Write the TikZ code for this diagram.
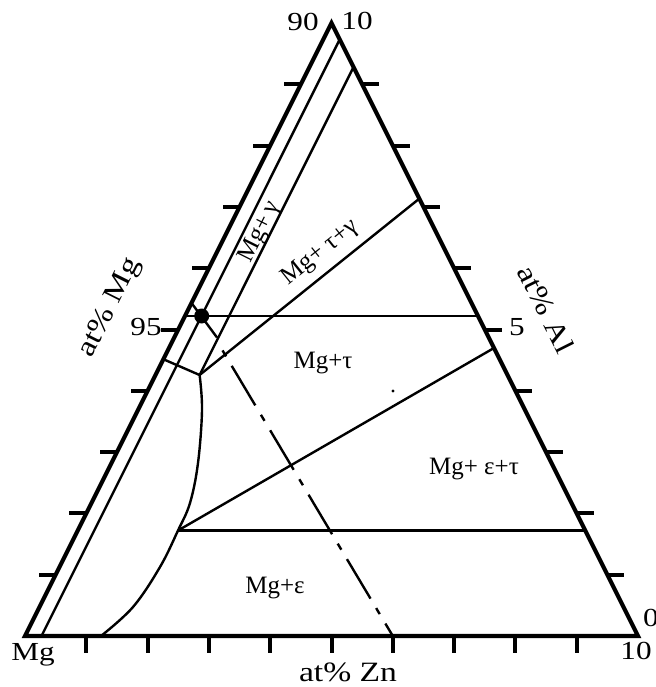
\documentclass[tikz,border=0pt]{standalone}
\usepackage{fontspec}
\setmainfont{Liberation Serif}
\newfontfamily\axfont[FakeStretch=1.2]{Liberation Serif}
\usetikzlibrary{calc}
\begin{document}
\begin{tikzpicture}[x=1pt,y=-1pt,
  frame/.style={line width=4.2pt, line join=miter},
  tickmark/.style={line width=4pt},
  phase/.style={line width=2.4pt},
  lbl/.style={inner sep=0pt, font=\fontsize{25}{25}\selectfont},
  axlbl/.style={inner sep=0pt, font=\axfont\fontsize{26}{26}\selectfont},
  axname/.style={inner sep=0pt, font=\axfont\fontsize{28}{28}\selectfont},
]
\useasboundingbox (0,0) rectangle (655,687);
% corners
\coordinate (A) at (25,636);
\coordinate (B) at (638,636);
\coordinate (C) at (331.5,23);
% phase points
\coordinate (J) at (199.6,375);
\coordinate (P) at (178,530.5);
\coordinate (D) at (201.7,316);
\coordinate (L2a) at (41.5,636);
\coordinate (L2b) at (339.7,39.5);
\coordinate (L3b) at (353.5,67.1);
\coordinate (Sa) at (191.5,303);
\coordinate (Sb) at (217,337.5);
\coordinate (Ha) at (185,316);
\coordinate (Hb) at (478,316);
\coordinate (Ka) at (164,359.5);
\coordinate (T1) at (419.5,198.5);
\coordinate (T2) at (494,348);
\coordinate (H2) at (585.5,530.5);
\coordinate (DDa) at (222.5,350.4);
\coordinate (DDb) at (392.8,636);
\coordinate (E) at (393,391);
% ticks
\foreach \k in {1,...,9}{
  \draw[tickmark] ($(A)!\k/10!(B)$) -- ++(0,17);
  \draw[tickmark] ($(A)!\k/10!(C)$) -- ++(-17,0);
  \draw[tickmark] ($(B)!\k/10!(C)$) -- ++(17,0);
}
% frame
\draw[frame] (A) -- (B) -- (C) -- cycle;
% phase boundaries
\draw[phase] (L2a) -- (L2b);
\draw[phase] (J) -- (L3b);
\draw[phase] (Sa) -- (Sb);
\draw[phase] (Ha) -- (Hb);
\draw[phase] (Ka) -- (J);
\draw[phase] (J) -- (T1);
\draw[phase] (P) -- (T2);
\draw[phase] (P) -- (H2);
\draw[phase] plot[smooth, tension=0.6] coordinates {(199.6,375) (202,410) (198,463) (190,503) (178,530.5) (160,567) (133,607) (101,636)};
\draw[phase, dash pattern=on 7pt off 11pt on 46pt off 11pt] (DDa) -- (DDb);
\fill (D) circle[radius=7.5];
\fill (E) circle[radius=1.7];
% interior labels
\node[lbl, rotate=63.4] (lg) at (260,232) {Mg+\,γ};
\node[lbl, rotate=38.7] (ltg) at (320,253) {Mg+ τ+γ};
\node[lbl] (lt) at (323,363) {Mg+τ};
\node[lbl] (let) at (474,469) {Mg+ ε+τ};
\node[lbl] (le) at (275,588) {Mg+ε};
% axis labels
\node[axname] (zn) at (348,672) {at\% Zn};
\node[axname, rotate=63.4] (mgax) at (110,308) {at\% Mg};
\node[axname, rotate=-63.4] (alax) at (546,309) {at\% Al};
\node[axlbl] (mg) at (33,655) {Mg};
\node[axlbl] (n10b) at (636,651) {10};
\node[axlbl] (n0) at (651,618) {0};
\node[axlbl] (n90) at (303,22) {90};
\node[axlbl] (n10t) at (357,21) {10};
\node[axlbl] (n95) at (146,327) {95};
\node[axlbl] (n5) at (517,327) {5};
\end{tikzpicture}
\end{document}
